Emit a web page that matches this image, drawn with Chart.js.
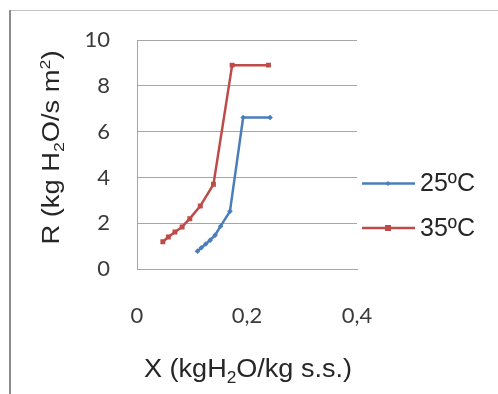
<!DOCTYPE html>
<html>
<head>
<meta charset="utf-8">
<script src="https://cdn.jsdelivr.net/npm/chart.js@4/dist/chart.umd.min.js"></script>
<style>
html,body{margin:0;padding:0;background:#fff;}
#wrap{width:498px;height:394px;}
</style>
</head>
<body>
<div id="wrap"><canvas id="c" width="498" height="394"></canvas></div>
<script>
// Data
const x25 = [0.110, 0.117, 0.125, 0.133, 0.142, 0.152, 0.169, 0.193, 0.242];
const r25 = [0.78, 0.93, 1.09, 1.26, 1.48, 1.87, 2.52, 6.62, 6.62];
const x35 = [0.047, 0.057, 0.069, 0.082, 0.096, 0.115, 0.139, 0.173, 0.239];
const r35 = [1.19, 1.40, 1.62, 1.84, 2.20, 2.75, 3.70, 8.91, 8.91];
const seriesLabels = ['25ºC', '35ºC'];
const xTicks = [0, 0.2, 0.4];
const yTicks = [0, 2, 4, 6, 8, 10];

const BLUE = '#4a7ebb', RED = '#be4b48';
const TITLE_FONT = '"Liberation Sans", Arial, sans-serif';
const TICK_FONT = 'Lato, "Open Sans", sans-serif';

function pts(xs, ys) { return xs.map((x, i) => ({x: x, y: ys[i]})); }

// draws text with sub/superscripts, centred on x, optionally stretched to a target length
function drawRich(ctx, segs, x, y, size, targetLen) {
  const sub = Math.round(size * 0.65);
  let w = 0;
  segs.forEach(s => {
    ctx.font = (s.sub || s.sup ? sub : size) + 'px ' + TITLE_FONT;
    s.w = ctx.measureText(s.t).width; w += s.w;
  });
  const sx = targetLen ? targetLen / w : 1;
  ctx.save();
  ctx.translate(x, y);
  ctx.scale(sx, 1);
  let cx = -w / 2;
  ctx.textAlign = 'left';
  ctx.textBaseline = 'alphabetic';
  segs.forEach(s => {
    ctx.font = (s.sub || s.sup ? sub : size) + 'px ' + TITLE_FONT;
    let dy = s.sub ? size * 0.22 : (s.sup ? -size * 0.38 : 0);
    ctx.fillText(s.t, cx, dy);
    cx += s.w;
  });
  ctx.restore();
}

const deco = {
  id: 'deco',
  beforeDraw(chart) {
    const ctx = chart.ctx;
    ctx.save();
    ctx.fillStyle = '#fff';
    ctx.fillRect(0, 0, chart.width, chart.height);
    ctx.strokeStyle = '#c4c4c4';
    ctx.lineWidth = 1;
    ctx.beginPath(); ctx.moveTo(10, 10.5); ctx.lineTo(498, 10.5); ctx.stroke();
    ctx.strokeStyle = '#8c8c8c';
    ctx.lineWidth = 2;
    ctx.beginPath(); ctx.moveTo(10, 10); ctx.lineTo(10, 394); ctx.stroke();
    ctx.restore();
  },
  afterDraw(chart) {
    const ctx = chart.ctx;
    ctx.save();
    ctx.fillStyle = '#262626';
    // X title
    drawRich(ctx, [{t: 'X (kgH'}, {t: '2', sub: true}, {t: 'O/kg s.s.)'}], 248, 377, 25, 208);
    // Y title
    ctx.translate(59, 147.5);
    ctx.rotate(-Math.PI / 2);
    drawRich(ctx, [{t: 'R (kg H'}, {t: '2', sub: true}, {t: 'O/s m'}, {t: '2', sup: true}, {t: ')'}], 0, 0, 23, 194);
    ctx.restore();
    // Legend
    ctx.save();
    chart.data.datasets.forEach((ds, i) => {
      const y = 183.5 + i * 44.5;
      ctx.strokeStyle = ds.borderColor;
      ctx.lineWidth = 2.5;
      ctx.beginPath(); ctx.moveTo(362, y); ctx.lineTo(415, y); ctx.stroke();
      ctx.fillStyle = ds.borderColor;
      if (ds.pointStyle === 'rect') {
        ctx.fillRect(385, y - 3, 6, 6);
      } else {
        ctx.beginPath(); ctx.moveTo(388, y - 2.5); ctx.lineTo(390.5, y); ctx.lineTo(388, y + 2.5); ctx.lineTo(385.5, y); ctx.closePath(); ctx.fill();
      }
      ctx.fillStyle = '#262626';
      ctx.font = '25px ' + TITLE_FONT;
      ctx.textAlign = 'left';
      ctx.textBaseline = 'middle';
      ctx.fillText(ds.label, 420, y + 1);
    });
    ctx.restore();
  }
};

new Chart(document.getElementById('c'), {
  type: 'line',
  data: {
    datasets: [
      {label: seriesLabels[0], data: pts(x25, r25), borderColor: BLUE, backgroundColor: BLUE,
       borderWidth: 2.5, pointStyle: 'rectRot', pointRadius: 2.8, pointBorderWidth: 0, tension: 0},
      {label: seriesLabels[1], data: pts(x35, r35), borderColor: RED, backgroundColor: RED,
       borderWidth: 2.5, pointStyle: 'rect', pointRadius: 3.5, pointBorderWidth: 0, tension: 0}
    ]
  },
  plugins: [deco],
  options: {
    responsive: false,
    animation: false,
    layout: {padding: {left: 0, top: 38, right: 141, bottom: 0}},
    plugins: {legend: {display: false}, tooltip: {enabled: false}},
    scales: {
      x: {
        type: 'linear', min: 0, max: 0.4,
        afterBuildTicks: s => { s.ticks = xTicks.map(v => ({value: v})); },
        afterFit: s => { s.height = 125; },
        grid: {display: false, drawTicks: false},
        border: {display: true, color: '#a6a6a6', width: 1},
        ticks: {padding: 34, color: '#3a3a3a', font: {family: TICK_FONT, size: 22},
          callback: v => v === 0 ? '0' : v.toFixed(1).replace('.', ',')}
      },
      y: {
        type: 'linear', min: 0, max: 10,
        afterBuildTicks: s => { s.ticks = yTicks.map(v => ({value: v})); },
        afterFit: s => { s.width = 137; },
        grid: {color: '#a6a6a6', lineWidth: 1, drawTicks: false},
        border: {display: true, color: '#a6a6a6', width: 1},
        ticks: {padding: 27, color: '#3a3a3a', font: {family: TICK_FONT, size: 22}}
      }
    }
  }
});
</script>
</body>
</html>
